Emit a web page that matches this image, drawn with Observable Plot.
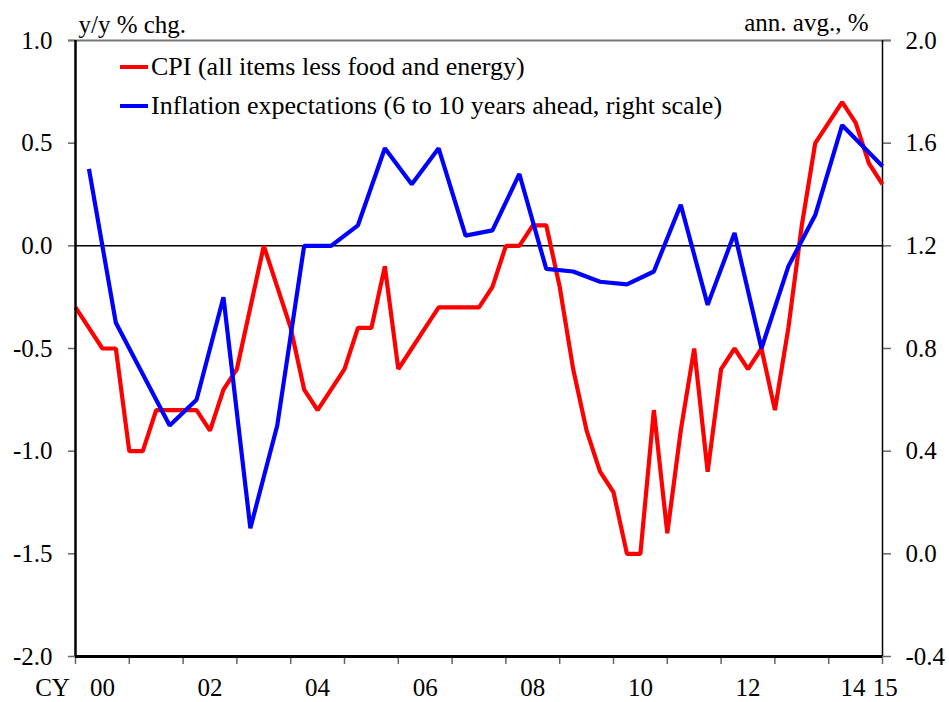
<!DOCTYPE html>
<html>
<head>
<meta charset="utf-8">
<script src="https://cdn.jsdelivr.net/npm/d3@7"></script>
<script src="https://cdn.jsdelivr.net/npm/@observablehq/plot@0.6"></script>
<style>
  html, body { margin: 0; padding: 0; background: #fff; overflow: hidden; }
  #chart { position: relative; width: 949px; height: 702px; }
  #chart svg, #chart svg text { font-family: "Liberation Serif", "Times New Roman", serif !important; }
</style>
</head>
<body>
<div id="chart"></div>
<script>
// ---- data ----
const cpiQuarters = [];
for (let y = 2000; y <= 2015; y++) for (let q = 1; q <= 4; q++) if (!(y === 2015 && q > 1)) cpiQuarters.push(`${y}Q${q}`);
const cpiValues = [
  -0.3, -0.4, -0.5, -0.5, -1.0, -1.0, -0.8, -0.8,
  -0.8, -0.8, -0.9, -0.7, -0.6, -0.3, 0.0, -0.2,
  -0.4, -0.7, -0.8, -0.7, -0.6, -0.4, -0.4, -0.1,
  -0.6, -0.5, -0.4, -0.3, -0.3, -0.3, -0.3, -0.2,
  0.0, 0.0, 0.1, 0.1, -0.2, -0.6, -0.9, -1.1,
  -1.2, -1.5, -1.5, -0.8, -1.4, -0.9, -0.5, -1.1,
  -0.6, -0.5, -0.6, -0.5, -0.8, -0.4, 0.1, 0.5,
  0.6, 0.7, 0.6, 0.4, 0.3
];
const expQuarters = [
  "2000Q2","2000Q4","2001Q4","2002Q2","2002Q4","2003Q2","2003Q4","2004Q2","2004Q4","2005Q2",
  "2005Q4","2006Q2","2006Q4","2007Q2","2007Q4","2008Q2","2008Q4","2009Q2","2009Q4","2010Q2",
  "2010Q4","2011Q2","2011Q4","2012Q2","2012Q4","2013Q2","2013Q4","2014Q2","2015Q1"
];
const expValues = [
  1.50, 0.90, 0.50, 0.60, 1.00, 0.10, 0.50, 1.20, 1.20, 1.28,
  1.58, 1.44, 1.58, 1.24, 1.26, 1.48, 1.11, 1.10, 1.06, 1.05,
  1.10, 1.36, 0.97, 1.25, 0.80, 1.12, 1.32, 1.67, 1.51
];
const xDomain = [2000, 2015];
const yDomain = [-2, 1];
const yTicks = [-2.0, -1.5, -1.0, -0.5, 0.0, 0.5, 1.0];
const yearTicks = d3.range(2000, 2016);
const xLabelPos = [2000.5, 2002.5, 2004.5, 2006.5, 2008.5, 2010.5, 2012.5, 2014.45, 2015.05];
const xLabels = ["00", "02", "04", "06", "08", "10", "12", "14", "15"];
// right scale: right = rightOffset + rightScale * left
const rightOffset = 1.2, rightScale = 0.8;
const leftTitle = "y/y % chg.";
const rightTitle = "ann. avg., %";
const legendItems = [
  {label: "CPI (all items less food and energy)", color: "#ff0000"},
  {label: "Inflation expectations (6 to 10 years ahead, right scale)", color: "#0000ff"}
];

const FONT = "Liberation Serif, Times New Roman, serif";
const qToX = s => +s.slice(0, 4) + (+s.slice(5) - 1) / 4;
const cpi = cpiQuarters.map((q, i) => ({x: qToX(q), v: cpiValues[i]}));
const exp = expQuarters.map((q, i) => ({x: qToX(q), v: expValues[i]}));
const fmt1 = v => { const r = Math.round(v * 10) / 10; return (Object.is(r, -0) ? 0 : r).toFixed(1); };

const chart = Plot.plot({
  width: 949,
  height: 702,
  marginLeft: 75,
  marginRight: 67,
  marginTop: 40,
  marginBottom: 46,
  style: {fontFamily: FONT, fontSize: "24px", background: "#fff", color: "#000"},
  x: {domain: xDomain, label: null},
  y: {domain: yDomain, label: null},
  marks: [
    Plot.axisX({ticks: yearTicks, tickSize: 8, tickFormat: () => "", stroke: "#666", strokeWidth: 1.5, label: null}),
    Plot.axisX({ticks: xLabelPos, tickSize: 0, tickPadding: 22, tickFormat: d => xLabels[xLabelPos.indexOf(d)], fill: "#000", fontSize: 25, fontFamily: FONT, label: null}),
    Plot.axisY({ticks: yTicks, tickSize: 7, tickPadding: 16, tickFormat: fmt1, stroke: "#666", strokeWidth: 1.5, fill: "#000", fontSize: 25, fontFamily: FONT, label: null}),
    Plot.axisY({anchor: "right", ticks: yTicks, tickSize: 8, tickPadding: 15, tickFormat: d => fmt1(rightOffset + rightScale * d), stroke: "#666", strokeWidth: 1.5, fill: "#000", fontSize: 25, fontFamily: FONT, label: null}),
    Plot.text(["CY"], {frameAnchor: "bottom-left", dx: -23, dy: 22, lineAnchor: "top", textAnchor: "middle", fontSize: 25, fontFamily: FONT, fill: "#000"}),
    Plot.text([leftTitle], {frameAnchor: "top-left", dx: 3, dy: -8, lineAnchor: "bottom", textAnchor: "start", fontSize: 25, fontFamily: FONT, fill: "#000"}),
    Plot.text([rightTitle], {frameAnchor: "top-right", dx: -14, dy: -10, lineAnchor: "bottom", textAnchor: "end", fontSize: 25, fontFamily: FONT, fill: "#000"}),
    Plot.ruleY([yDomain[1]], {stroke: "#777", strokeWidth: 2, insetLeft: -7, insetRight: -9}),
    Plot.ruleY([0], {stroke: "#000", strokeWidth: 1.5}),
    Plot.ruleX([xDomain[1]], {stroke: "#000", strokeWidth: 1.5}),
    Plot.line(cpi, {x: "x", y: "v", stroke: "#ff0000", strokeWidth: 4.2, strokeLinejoin: "miter", strokeLinecap: "butt"}),
    Plot.line(exp, {x: "x", y: d => (d.v - rightOffset) / rightScale, stroke: "#0000ff", strokeWidth: 4.2, strokeLinejoin: "miter", strokeLinecap: "butt"}),
    Plot.ruleX([xDomain[0]], {stroke: "#000", strokeWidth: 2.5}),
    Plot.ruleY([yDomain[0]], {stroke: "#000", strokeWidth: 3})
  ]
});

// legend inside the plot area
const svg = d3.select(chart);
const leg = svg.append("g").attr("font-family", FONT).attr("font-size", 26).attr("text-anchor", "start");
legendItems.forEach((it, i) => {
  const cy = 67 + i * 39;
  leg.append("line").attr("x1", 120).attr("x2", 148).attr("y1", cy).attr("y2", cy)
    .attr("stroke", it.color).attr("stroke-width", 4);
  leg.append("text").attr("x", 151).attr("y", cy + 8).attr("fill", "#000").attr("text-anchor", "start").text(it.label);
});

document.getElementById("chart").appendChild(chart);
</script>
</body>
</html>
